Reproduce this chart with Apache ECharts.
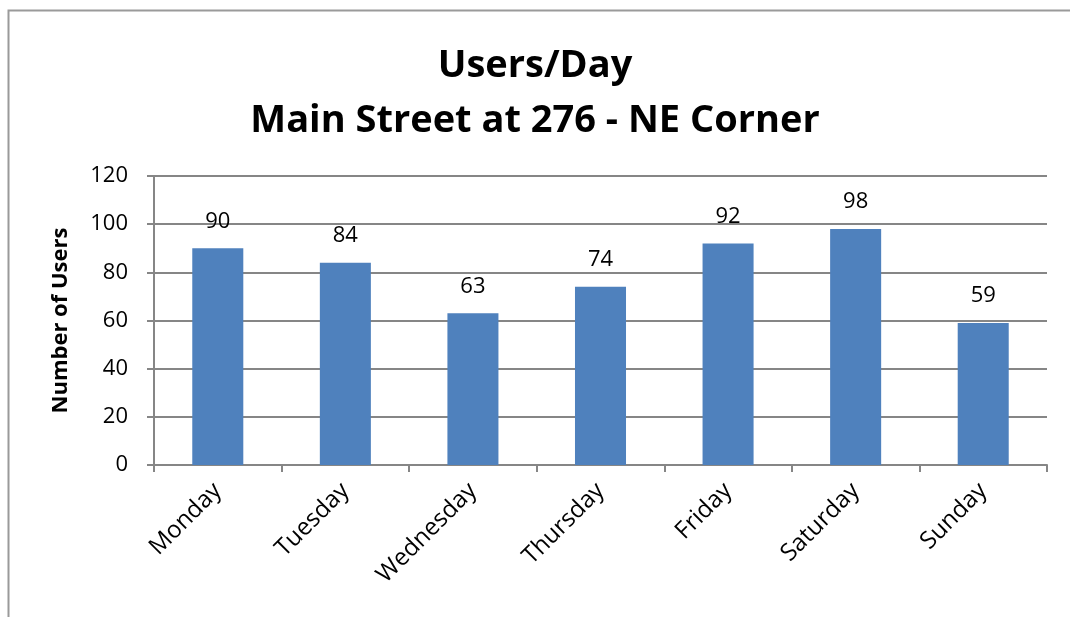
<!DOCTYPE html>
<html>
<head>
<meta charset="utf-8">
<script src="https://cdn.jsdelivr.net/npm/echarts@6/dist/echarts.min.js"></script>
<style>html,body{margin:0;padding:0;background:#fff}#c{width:1070px;height:617px}</style>
</head>
<body>
<div id="c"></div>
<script>
const titleLines = ['Users/Day', 'Main Street at 276 - NE Corner'];
const categories = ['Monday', 'Tuesday', 'Wednesday', 'Thursday', 'Friday', 'Saturday', 'Sunday'];
const users = [90, 84, 63, 74, 92, 98, 59];
const yAxisName = 'Number of Users';

const FONT = '"Open Sans", sans-serif';
const chart = echarts.init(document.getElementById('c'));
chart.setOption({
  animation: false,
  backgroundColor: '#fff',
  graphic: [{
    type: 'rect', left: 6, top: 8,
    shape: { width: 1100, height: 700 },
    style: { fill: 'none', stroke: '#9a9a9a', lineWidth: 2 },
    silent: true
  }],
  title: {
    text: titleLines.join('\n'),
    left: 'center', top: 34,
    textStyle: { fontFamily: FONT, fontWeight: 'bold', fontSize: 38, color: '#000', lineHeight: 55 }
  },
  grid: { left: 154, right: 23, top: 176, bottom: 152, containLabel: false },
  xAxis: {
    type: 'category', data: categories,
    axisLine: { lineStyle: { color: '#868686', width: 2 } },
    axisTick: { show: true, length: 7, alignWithLabel: false, lineStyle: { color: '#868686', width: 2 } },
    axisLabel: { rotate: 45, margin: 22, fontFamily: FONT, fontSize: 24, color: '#000', interval: 0 }
  },
  yAxis: {
    type: 'value', min: 0, max: 120, interval: 20,
    name: yAxisName, nameLocation: 'middle', nameGap: 82, nameRotate: 90,
    nameTextStyle: { fontFamily: FONT, fontWeight: 'bold', fontSize: 22, color: '#000' },
    axisLine: { show: true, lineStyle: { color: '#868686', width: 2 } },
    axisTick: { show: true, length: 7, inside: false, lineStyle: { color: '#868686', width: 2 } },
    splitLine: { lineStyle: { color: '#868686', width: 2 } },
    axisLabel: { margin: 26, fontFamily: FONT, fontSize: 22, color: '#000' }
  },
  series: [{
    type: 'bar', data: users,
    barCategoryGap: '60%',
    itemStyle: { color: '#4F81BD' },
    label: { show: true, position: 'top', distance: 16, fontFamily: FONT, fontSize: 22, color: '#000' }
  }]
});
</script>
</body>
</html>
